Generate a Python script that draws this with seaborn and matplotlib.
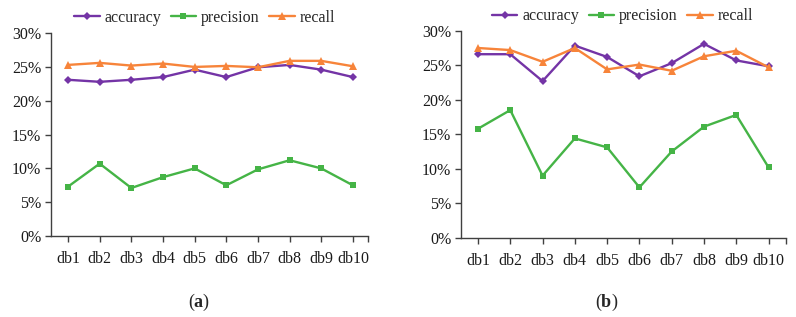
import matplotlib
matplotlib.use("Agg")
import matplotlib.pyplot as plt
import seaborn as sns
import pandas as pd
import numpy as np

sns.set_theme(style="white")
plt.rcParams["font.family"] = ["Liberation Serif", "DejaVu Serif"]
plt.rcParams["mathtext.fontset"] = "custom"
plt.rcParams["mathtext.rm"] = "Liberation Serif"
plt.rcParams["mathtext.bf"] = "Liberation Serif:bold"

# Data (percent)
datasets = ["db1", "db2", "db3", "db4", "db5", "db6", "db7", "db8", "db9", "db10"]
metrics = ["accuracy", "precision", "recall"]

acc_a = [23.1, 22.8, 23.1, 23.5, 24.6, 23.5, 24.95, 25.3, 24.6, 23.5]
prec_a = [7.3, 10.7, 7.1, 8.7, 10.0, 7.5, 9.85, 11.2, 10.0, 7.5]
rec_a = [25.3, 25.6, 25.2, 25.5, 25.0, 25.15, 24.95, 25.9, 25.9, 25.1]

acc_b = [26.6, 26.6, 22.7, 27.85, 26.2, 23.4, 25.3, 28.1, 25.7, 24.85]
prec_b = [15.8, 18.5, 9.0, 14.4, 13.1, 7.3, 12.5, 16.1, 17.8, 10.2]
rec_b = [27.5, 27.2, 25.5, 27.5, 24.4, 25.1, 24.2, 26.3, 27.1, 24.7]

colors = {"accuracy": "#7434A6", "precision": "#45B446", "recall": "#F7843A"}
markers = {"accuracy": "D", "precision": "s", "recall": "^"}
msizes = {"accuracy": 4.0, "precision": 5.0, "recall": 5.5}


def long_df(acc, prec, rec):
    rows = []
    for name, vals in zip(metrics, [acc, prec, rec]):
        for i, v in enumerate(vals):
            rows.append({"idx": i, "value": v, "metric": name})
    return pd.DataFrame(rows)


fig = plt.figure(figsize=(7.96, 3.17), dpi=100)
ax_a = fig.add_axes([0.064, 0.2555, 0.398, 0.640])
ax_b = fig.add_axes([0.579, 0.250, 0.408, 0.653])

panels = [
    (ax_a, long_df(acc_a, prec_a, rec_a), (-0.54, 9.47), 0.257, 0.943, "a", 199),
    (ax_b, long_df(acc_b, prec_b, rec_b), (-0.53, 9.53), 0.782, 0.949, "b", 607),
]

for ax, df, xl, lx, ly, tag, cx in panels:
    for m in metrics:
        sub = df[df["metric"] == m]
        sns.lineplot(
            data=sub, x="idx", y="value", ax=ax, color=colors[m],
            marker=markers[m], markersize=msizes[m], markeredgewidth=0,
            linewidth=1.7, label=m,
        )
    ax.set_xlim(*xl)
    ax.set_ylim(0, 30)
    ax.set_yticks(np.arange(0, 31, 5))
    ax.set_yticklabels([f"{t}%" for t in range(0, 31, 5)])
    ax.set_xticks(list(range(len(datasets))) + [xl[1]])
    ax.set_xticklabels(datasets + [""])
    ax.set_xlabel("")
    ax.set_ylabel("")
    for s in ["top", "right"]:
        ax.spines[s].set_visible(False)
    for s in ["left", "bottom"]:
        ax.spines[s].set_color("#404040")
        ax.spines[s].set_linewidth(1.0)
    ax.tick_params(axis="both", which="both", direction="out", length=4,
                   width=1.0, color="#404040", labelsize=11.5, labelcolor="#1a1a1a",
                   bottom=True, left=True)
    ax.tick_params(axis="x", pad=7)
    ax.tick_params(axis="y", pad=3)
    ax.legend_.remove()
    handles, labels = ax.get_legend_handles_labels()
    fig.legend(handles, labels, loc="center", bbox_to_anchor=(lx, ly),
               ncol=3, frameon=False, fontsize=11.5, handlelength=1.6,
               handletextpad=0.3, columnspacing=0.6)
    fig.text(cx / 796, 1 - 302 / 317, r"($\mathbf{" + tag + r"}$)",
             ha="center", va="center", fontsize=13)

fig.savefig("out.png", dpi=100)
